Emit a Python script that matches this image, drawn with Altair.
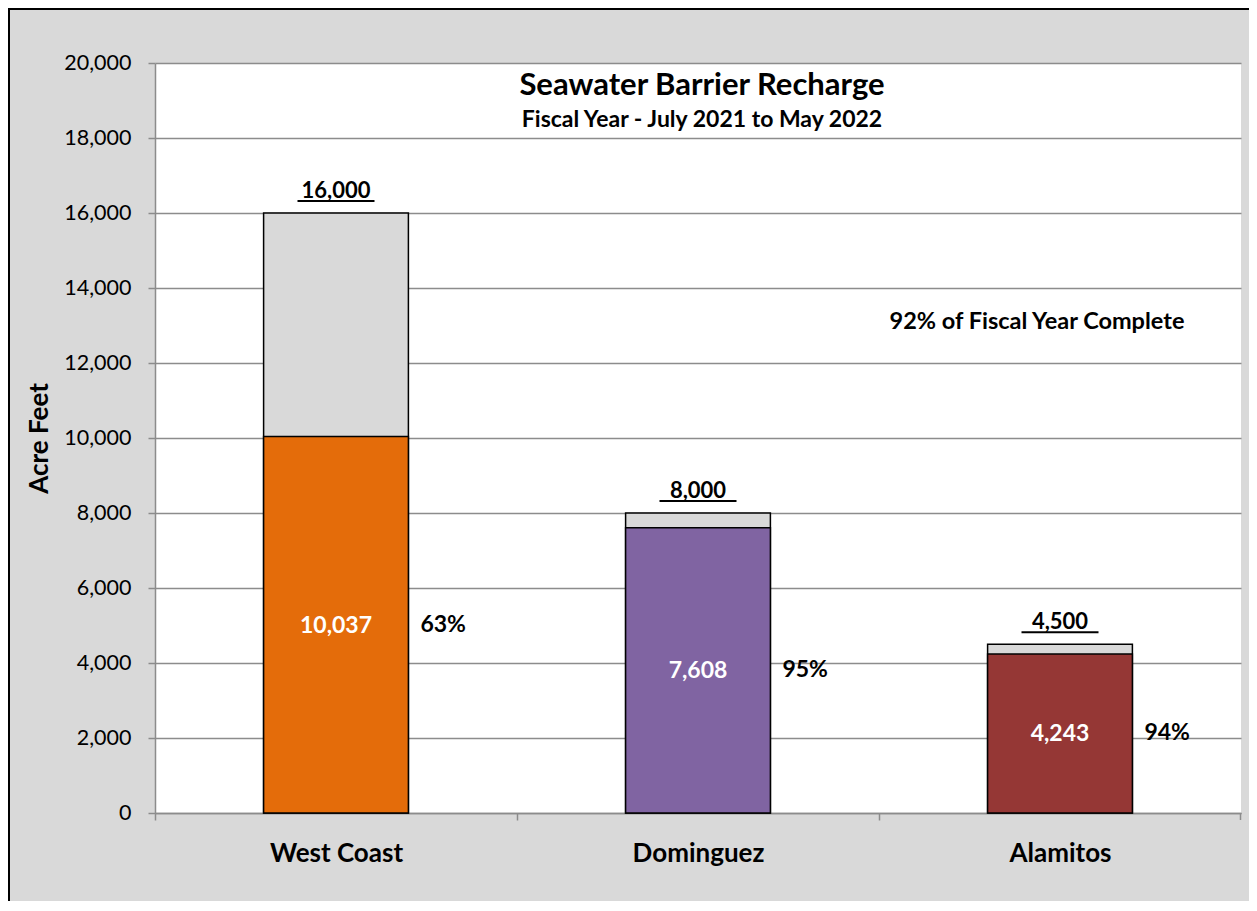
import altair as alt
import pandas as pd

regions = ["West Coast", "Dominguez", "Alamitos"]
targets = [16000, 8000, 4500]
actuals = [10037, 7608, 4243]
colors = ["#E46C0A", "#8064A2", "#953735"]
title_text = "Seawater Barrier Recharge"
subtitle_text = "Fiscal Year - July 2021 to May 2022"
note_text = "92% of Fiscal Year Complete"
y_ticks = list(range(0, 20001, 2000))

df = pd.DataFrame({
    "region": regions,
    "target": targets,
    "actual": actuals,
    "color": colors,
})
df["half"] = df["actual"] / 2
df["pct"] = (df["actual"] / df["target"] * 100).round().astype(int).astype(str) + "%"

FONT = "Lato"
GRID = "#8c8c8c"
W, H = 1086, 750
STEP = W / 3

xscale = alt.Scale(domain=regions, paddingInner=0.6, paddingOuter=0.3)
yscale = alt.Scale(domain=[0, 20000], nice=False)

xaxis = alt.Axis(
    title=None, labelAngle=0, labelFont=FONT, labelFontSize=26, labelFontWeight="bold",
    labelColor="black", labelPadding=20, tickOffset=-STEP / 2, labelOffset=STEP / 2,
    tickSize=7, tickColor=GRID, tickWidth=1.5, domainColor=GRID, domainWidth=1.5, grid=False,
)
yaxis = alt.Axis(
    title="Acre Feet", values=y_ticks, format=",.0f", labelFont=FONT, labelFontSize=21.5,
    labelColor="black", labelPadding=17, tickSize=7, tickColor=GRID, tickWidth=1.5,
    domainColor=GRID, domainWidth=1.5, grid=True, gridColor=GRID, gridWidth=1.5,
    titleFont=FONT, titleFontSize=26, titleFontWeight="bold", titleColor="black",
    titleX=-116, titleY=H / 2, titleAngle=-90, titleBaseline="middle", titleAlign="center",
)

def X(**kw):
    return alt.X("region:N", sort=regions, scale=xscale, axis=xaxis, **kw)

def Y(field):
    return alt.Y(f"{field}:Q", scale=yscale, axis=yaxis)

base = alt.Chart(df)

target_bars = base.mark_bar(color="#D9D9D9", stroke="black", strokeWidth=1.5).encode(
    x=X(), y=Y("target")
)
actual_bars = base.mark_bar(stroke="black", strokeWidth=1.5).encode(
    x=X(), y=Y("actual"), color=alt.Color("color:N", scale=None)
)
total_text = base.mark_text(
    font=FONT, fontSize=22, fontWeight="bold", color="black", baseline="alphabetic", dy=-15
).encode(x=X(), y=Y("target"), text=alt.Text("target:Q", format=","))
underline = base.mark_tick(
    orient="horizontal", size=77, thickness=2, color="black", yOffset=-12, opacity=1
).encode(x=X(), y=Y("target"))
inside_text = base.mark_text(
    font=FONT, fontSize=23, fontWeight="bold", color="white", baseline="middle", dy=1
).encode(x=X(), y=Y("half"), text=alt.Text("actual:Q", format=","))
pct_text = base.mark_text(
    font=FONT, fontSize=23, fontWeight="bold", color="black", baseline="middle", align="left", dx=12
).encode(x=X(bandPosition=1), y=Y("half"), text="pct:N")

title_mark = alt.Chart(pd.DataFrame({"t": [title_text]})).mark_text(
    font=FONT, fontSize=31, fontWeight="bold", color="black", baseline="alphabetic"
).encode(x=alt.value(547), y=alt.value(32), text="t:N")
subtitle_mark = alt.Chart(pd.DataFrame({"t": [subtitle_text]})).mark_text(
    font=FONT, fontSize=23, fontWeight="bold", color="black", baseline="alphabetic"
).encode(x=alt.value(547), y=alt.value(64), text="t:N")
note_mark = alt.Chart(pd.DataFrame({"t": [note_text]})).mark_text(
    font=FONT, fontSize=23.5, fontWeight="bold", color="black", baseline="middle"
).encode(x=alt.value(882), y=alt.value(259), text="t:N")

# closing tick at the right end of the category axis
end_tick = alt.Chart(pd.DataFrame({"a": [0]})).mark_rule(color=GRID, strokeWidth=1.5).encode(
    x=alt.value(W - 0.5), y=alt.value(H), y2=alt.value(H + 7)
)

border_left = alt.Chart(pd.DataFrame({"a": [0]})).mark_rule(color="black", strokeWidth=2).encode(
    x=alt.value(-146), y=alt.value(-55), y2=alt.value(H + 88)
)
border_top = alt.Chart(pd.DataFrame({"a": [0]})).mark_rule(color="black", strokeWidth=2).encode(
    x=alt.value(-147), x2=alt.value(W + 8), y=alt.value(-54)
)

chart = alt.layer(
    target_bars, actual_bars, underline, total_text, inside_text, pct_text,
    title_mark, subtitle_mark, note_mark, end_tick, border_left, border_top,
).properties(
    width=W, height=H,
    autosize=alt.AutoSizeParams(type="none"),
    padding={"left": 147, "top": 55, "right": 8, "bottom": 88},
    background="#D9D9D9",
).configure_view(fill="white", stroke=None)

chart.save("out.html", embed_options={"renderer": "svg", "actions": False})
